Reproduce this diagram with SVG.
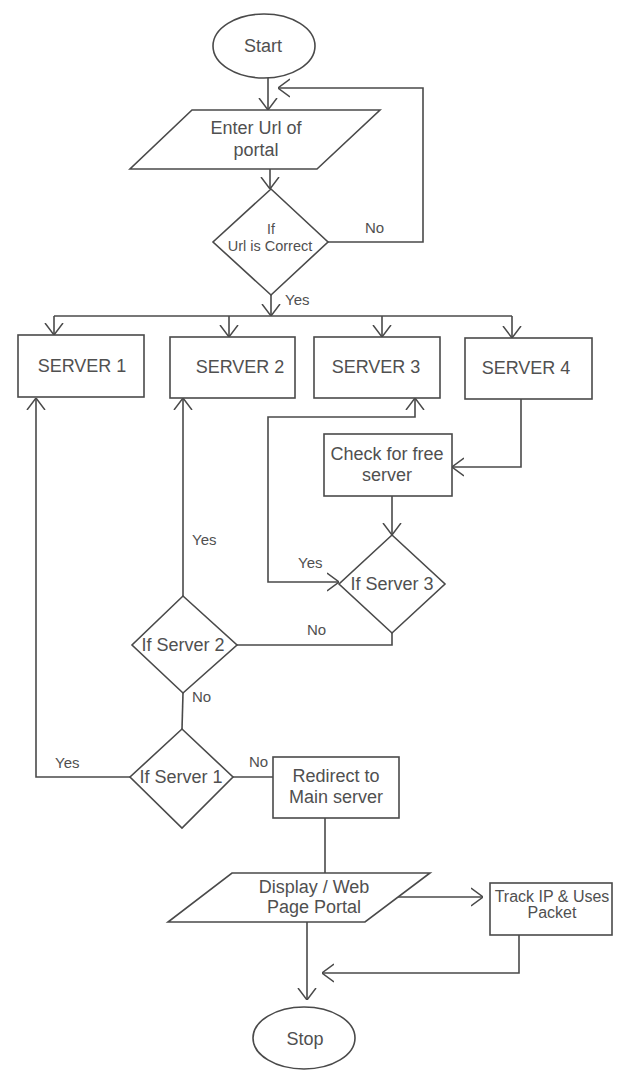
<svg xmlns="http://www.w3.org/2000/svg" width="619" height="1070" viewBox="0 0 619 1070">
<style>
.s{fill:#fff;stroke:#4a4a4a;stroke-width:1.6}
.c{fill:none;stroke:#4a4a4a;stroke-width:1.6}
.t{font-family:"Liberation Sans",Arial,sans-serif;font-size:18px;fill:#505050;text-anchor:middle}
.l{font-family:"Liberation Sans",Arial,sans-serif;font-size:15px;fill:#505050}
</style>
<defs>
<marker id="a" viewBox="0 0 12 20" refX="12" refY="10" markerWidth="12" markerHeight="20" markerUnits="userSpaceOnUse" orient="auto">
<path d="M0,1 L12,10 L0,19" fill="none" stroke="#4a4a4a" stroke-width="1.5"/>
</marker>
</defs>
<rect width="619" height="1070" fill="#fff"/>
<g id="connectors">
<path class="c" d="M268,78 L268,110" marker-end="url(#a)"/>
<path class="c" d="M328,242 L423,242 L423,88 L278,88" marker-end="url(#a)"/>
<path class="c" d="M270,169 L270,189" marker-end="url(#a)"/>
<path class="c" d="M271,295 L271,316" marker-end="url(#a)"/>
<path class="c" d="M54,316 L512,316"/>
<path class="c" d="M54,316 L54,335" marker-end="url(#a)"/>
<path class="c" d="M229,316 L229,337" marker-end="url(#a)"/>
<path class="c" d="M382,316 L382,337" marker-end="url(#a)"/>
<path class="c" d="M512,316 L512,338" marker-end="url(#a)"/>
<path class="c" d="M521,399 L521,467 L452,467" marker-end="url(#a)"/>
<path class="c" d="M392,496 L392,535" marker-end="url(#a)"/>
<path class="c" d="M268,500 L268,582 L339,582" marker-end="url(#a)"/>
<path class="c" d="M268,500 L268,417 L415,417 L415,398" marker-end="url(#a)"/>
<path class="c" d="M392,633 L392,645 L237,645"/>
<path class="c" d="M183,596 L183,398" marker-end="url(#a)"/>
<path class="c" d="M183,693 L182,729"/>
<path class="c" d="M130,777 L36,777 L36,398" marker-end="url(#a)"/>
<path class="c" d="M233,777 L273,777"/>
<path class="c" d="M325,818 L325,873"/>
<path class="c" d="M397,897 L483,897" marker-end="url(#a)"/>
<path class="c" d="M307,922 L307,1000" marker-end="url(#a)"/>
<path class="c" d="M519,935 L519,973 L322,973" marker-end="url(#a)"/>
<text class="l" x="365" y="233">No</text>
<text class="l" x="285" y="305">Yes</text>
<text class="l" x="298" y="568">Yes</text>
<text class="l" x="307" y="635">No</text>
<text class="l" x="192" y="545">Yes</text>
<text class="l" x="192" y="702">No</text>
<text class="l" x="55" y="768">Yes</text>
<text class="l" x="249" y="767">No</text>
</g>
<g id="start">
<ellipse class="s" cx="264" cy="46" rx="51" ry="32"/>
<text class="t" x="263" y="52">Start</text>
</g>
<g id="enter-url">
<polygon class="s" points="192,110 380,110 317,169 130,169"/>
<text class="t" x="256" y="134">Enter Url of</text>
<text class="t" x="256" y="156">portal</text>
</g>
<g id="url-correct">
<polygon class="s" points="271,189 328,242 271,295 213,242"/>
<text class="t" x="271" y="234" style="font-size:14px">If</text>
<text class="t" x="270" y="251" style="font-size:14.5px">Url is Correct</text>
</g>
<g id="server1">
<rect class="s" x="18" y="335" width="126" height="62"/>
<text class="t" x="82" y="372">SERVER 1</text>
</g>
<g id="server2">
<rect class="s" x="170" y="337" width="125" height="61"/>
<text class="t" x="240" y="373">SERVER 2</text>
</g>
<g id="server3">
<rect class="s" x="314" y="337" width="126" height="61"/>
<text class="t" x="376" y="373">SERVER 3</text>
</g>
<g id="server4">
<rect class="s" x="465" y="338" width="127" height="61"/>
<text class="t" x="526" y="374">SERVER 4</text>
</g>
<g id="check-free">
<rect class="s" x="324" y="434" width="128" height="62"/>
<text class="t" x="387" y="460">Check for free</text>
<text class="t" x="387" y="481">server</text>
</g>
<g id="if-server3">
<polygon class="s" points="392,535 445,584 392,633 339,584"/>
<text class="t" x="392" y="590">If Server 3</text>
</g>
<g id="if-server2">
<polygon class="s" points="183,596 237,645 183,693 132,645"/>
<text class="t" x="183" y="651">If Server 2</text>
</g>
<g id="if-server1">
<polygon class="s" points="182,729 233,777 182,828 130,777"/>
<text class="t" x="181" y="783">If Server 1</text>
</g>
<g id="redirect">
<rect class="s" x="273" y="757" width="126" height="61"/>
<text class="t" x="336" y="782">Redirect to</text>
<text class="t" x="336" y="803">Main server</text>
</g>
<g id="display">
<polygon class="s" points="232,873 430,873 365,922 168,922"/>
<text class="t" x="314" y="893">Display / Web</text>
<text class="t" x="314" y="913">Page Portal</text>
</g>
<g id="track">
<rect class="s" x="490" y="883" width="122" height="52"/>
<text class="t" x="552" y="902" style="font-size:16px">Track IP &amp; Uses</text>
<text class="t" x="552" y="918" style="font-size:16px">Packet</text>
</g>
<g id="stop">
<ellipse class="s" cx="304" cy="1038" rx="51" ry="31"/>
<text class="t" x="305" y="1045">Stop</text>
</g>
</svg>
